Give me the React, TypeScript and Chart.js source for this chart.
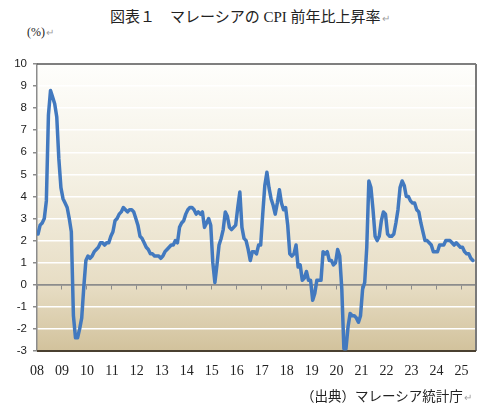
import React, { useEffect, useRef } from "react";
import { Chart, registerables } from "chart.js";

Chart.register(...registerables);

// Malaysia CPI, year-on-year change (%), monthly Jan 2008 - Jun 2025
const cpi2008 = [2.3, 2.7, 2.8, 3.0, 3.8, 7.7, 8.8, 8.5, 8.2, 7.6, 5.7, 4.4];
const cpi2009 = [3.9, 3.7, 3.5, 3.0, 2.4, -1.4, -2.4, -2.4, -2.0, -1.5, -0.1, 1.1];
const cpi2010 = [1.3, 1.2, 1.3, 1.5, 1.6, 1.7, 1.9, 1.9, 1.8, 1.9, 1.9, 2.2];
const cpi2011 = [2.4, 2.9, 3.0, 3.2, 3.3, 3.5, 3.4, 3.3, 3.4, 3.4, 3.3, 3.0];
const cpi2012 = [2.7, 2.2, 2.1, 1.9, 1.7, 1.6, 1.4, 1.4, 1.3, 1.3, 1.3, 1.2];
const cpi2013 = [1.3, 1.5, 1.6, 1.7, 1.8, 1.8, 2.0, 1.9, 2.6, 2.8, 2.9, 3.2];
const cpi2014 = [3.4, 3.5, 3.5, 3.4, 3.2, 3.3, 3.2, 3.3, 2.6, 2.8, 3.0, 2.7];
const cpi2015 = [1.0, 0.1, 0.9, 1.8, 2.1, 2.5, 3.3, 3.1, 2.6, 2.5, 2.6, 2.7];
const cpi2016 = [3.5, 4.2, 2.6, 2.1, 2.0, 1.6, 1.1, 1.5, 1.5, 1.4, 1.8, 1.8];
const cpi2017 = [3.2, 4.5, 5.1, 4.4, 3.9, 3.6, 3.2, 3.7, 4.3, 3.7, 3.4, 3.5];
const cpi2018 = [2.7, 1.4, 1.3, 1.4, 1.8, 0.8, 0.9, 0.2, 0.3, 0.6, 0.2, 0.2];
const cpi2019 = [-0.7, -0.4, 0.2, 0.2, 0.2, 1.5, 1.4, 1.5, 1.1, 1.1, 0.9, 1.0];
const cpi2020 = [1.6, 1.3, -0.2, -2.9, -2.9, -1.9, -1.3, -1.4, -1.4, -1.5, -1.7, -1.4];
const cpi2021 = [-0.2, 0.1, 1.7, 4.7, 4.4, 3.4, 2.2, 2.0, 2.2, 2.9, 3.3, 3.2];
const cpi2022 = [2.3, 2.2, 2.2, 2.3, 2.8, 3.4, 4.4, 4.7, 4.5, 4.0, 4.0, 3.8];
const cpi2023 = [3.7, 3.7, 3.4, 3.3, 2.8, 2.4, 2.0, 2.0, 1.9, 1.8, 1.5, 1.5];
const cpi2024 = [1.5, 1.8, 1.8, 1.8, 2.0, 2.0, 2.0, 1.9, 1.8, 1.9, 1.8, 1.7];
const cpi2025 = [1.7, 1.5, 1.4, 1.4, 1.2, 1.1];

const monthlyCpi = [
  ...cpi2008, ...cpi2009, ...cpi2010, ...cpi2011, ...cpi2012, ...cpi2013,
  ...cpi2014, ...cpi2015, ...cpi2016, ...cpi2017, ...cpi2018, ...cpi2019,
  ...cpi2020, ...cpi2021, ...cpi2022, ...cpi2023, ...cpi2024, ...cpi2025,
];

const yearTickLabels = [
  "08", "09", "10", "11", "12", "13", "14", "15", "16",
  "17", "18", "19", "20", "21", "22", "23", "24", "25",
];

const TOTAL_MONTH_SLOTS = 211;
const Y_MIN = -3;
const Y_MAX = 10;

const TITLE = "図表１　マレーシアの CPI 前年比上昇率";
const UNIT = "(%)";
const SOURCE = "（出典）マレーシア統計庁";

const yearTickValues = yearTickLabels.map((_, k) => -0.5 + 12 * k);

const plotDecor = {
  id: "plotDecor",
  beforeDraw(chart: any) {
    const { ctx, chartArea: a } = chart;
    const g = ctx.createLinearGradient(0, a.top, 0, a.bottom);
    g.addColorStop(0, "#fefefc");
    g.addColorStop(0.4, "#f4f0e3");
    g.addColorStop(0.77, "#e7ddc4");
    g.addColorStop(1, "#d2c29c");
    ctx.save();
    ctx.fillStyle = g;
    ctx.fillRect(a.left, a.top, a.right - a.left, a.bottom - a.top);
    ctx.restore();
  },
  beforeDatasetsDraw(chart: any) {
    const { ctx, chartArea: a } = chart;
    ctx.save();
    ctx.lineWidth = 1.5;
    ctx.strokeStyle = "#555555";
    ctx.beginPath();
    ctx.moveTo(a.left, a.top);
    ctx.lineTo(a.right, a.top);
    ctx.stroke();
    ctx.lineWidth = 2;
    ctx.strokeStyle = "#7a7a7a";
    ctx.beginPath();
    ctx.moveTo(a.right, a.top);
    ctx.lineTo(a.right, a.bottom);
    ctx.stroke();
    ctx.strokeStyle = "#4a4030";
    ctx.beginPath();
    ctx.moveTo(a.left, a.bottom);
    ctx.lineTo(a.right, a.bottom);
    ctx.stroke();
    ctx.restore();
  },
};

function CpiChart() {
  const ref = useRef<HTMLCanvasElement | null>(null);
  useEffect(() => {
    if (!ref.current) return;
    const chart = new Chart(ref.current, {
      type: "line",
      data: {
        datasets: [
          {
            data: monthlyCpi.map((v, i) => ({ x: i, y: v })),
            borderColor: "#4279bf",
            borderWidth: 3.5,
            pointRadius: 0,
            tension: 0,
            fill: false,
            borderJoinStyle: "round",
            borderCapStyle: "round",
            xAxisID: "x",
            yAxisID: "y",
          } as any,
        ],
      },
      options: {
        animation: false,
        responsive: true,
        maintainAspectRatio: false,
        layout: { padding: { left: 0, top: 14, right: 20, bottom: 0 } },
        plugins: { legend: { display: false }, tooltip: { enabled: false } },
        scales: {
          x: {
            type: "linear",
            position: { y: 0 } as any,
            min: -0.5,
            max: TOTAL_MONTH_SLOTS - 0.5,
            afterBuildTicks: (axis: any) => {
              axis.ticks = yearTickValues.map((v) => ({ value: v }));
            },
            ticks: { display: false },
            grid: {
              drawOnChartArea: false,
              drawTicks: true,
              tickLength: 4,
              color: "#8c8c8c",
              tickColor: "#8c8c8c",
            },
            border: { display: true, color: "#8c8c8c", width: 1.5 },
          },
          x2: {
            type: "linear",
            position: "bottom",
            axis: "x",
            min: -0.5,
            max: TOTAL_MONTH_SLOTS - 0.5,
            afterBuildTicks: (axis: any) => {
              axis.ticks = yearTickValues.map((v) => ({ value: v }));
            },
            afterFit: (scale: any) => {
              scale.height = 39;
            },
            ticks: {
              autoSkip: false,
              maxRotation: 0,
              padding: 12,
              color: "#222222",
              font: { family: "'Liberation Serif', 'DejaVu Serif', serif", size: 14 },
              callback: (_v: any, i: number) => yearTickLabels[i],
            },
            grid: { display: false, drawTicks: false },
            border: { display: false },
          } as any,
          y: {
            type: "linear",
            position: "left",
            min: Y_MIN,
            max: Y_MAX,
            afterFit: (scale: any) => {
              scale.width = 37;
            },
            ticks: {
              stepSize: 1,
              padding: 6,
              color: "#222222",
              font: { family: "'Liberation Sans', Arial, sans-serif", size: 11.5 },
            },
            grid: {
              drawOnChartArea: true,
              drawTicks: true,
              tickLength: 4,
              lineWidth: 1.5,
              color: (c: any) => (c.tick && c.tick.value === 0 ? "#8c8c8c" : "#ffffff"),
              tickColor: "#8c8c8c",
            },
            border: { display: true, color: "#8c8c8c", width: 1.5 },
          },
        },
      },
      plugins: [plotDecor],
    });
    return () => chart.destroy();
  }, []);
  return <canvas ref={ref} />;
}

const retMark: React.CSSProperties = { color: "#a0a0a0", fontSize: 10, marginLeft: 1 };

export default function App() {
  return (
    <div
      style={{
        position: "absolute",
        left: 0,
        top: 0,
        width: 496,
        height: 414,
        background: "#ffffff",
        overflow: "hidden",
      }}
    >
      <div
        style={{
          position: "absolute",
          left: 110,
          top: 9,
          fontFamily: "'Liberation Serif', 'Noto Sans CJK JP', serif",
          fontSize: 15,
          lineHeight: "17px",
          color: "#222",
          whiteSpace: "nowrap",
        }}
      >
        {TITLE}
        <span style={retMark}>↵</span>
      </div>
      <div
        style={{
          position: "absolute",
          left: 27,
          top: 26,
          fontFamily: "'Liberation Serif', serif",
          fontSize: 12,
          lineHeight: "13px",
          color: "#222",
          whiteSpace: "nowrap",
        }}
      >
        {UNIT}
        <span style={retMark}>↵</span>
      </div>
      <div style={{ position: "absolute", left: 0, top: 50, width: 496, height: 340 }}>
        <CpiChart />
      </div>
      <div
        style={{
          position: "absolute",
          left: 301,
          top: 389,
          fontFamily: "'Liberation Serif', 'Noto Sans CJK JP', serif",
          fontSize: 13.5,
          lineHeight: "15px",
          color: "#222",
          whiteSpace: "nowrap",
        }}
      >
        {SOURCE}
        <span style={retMark}>↵</span>
      </div>
    </div>
  );
}
